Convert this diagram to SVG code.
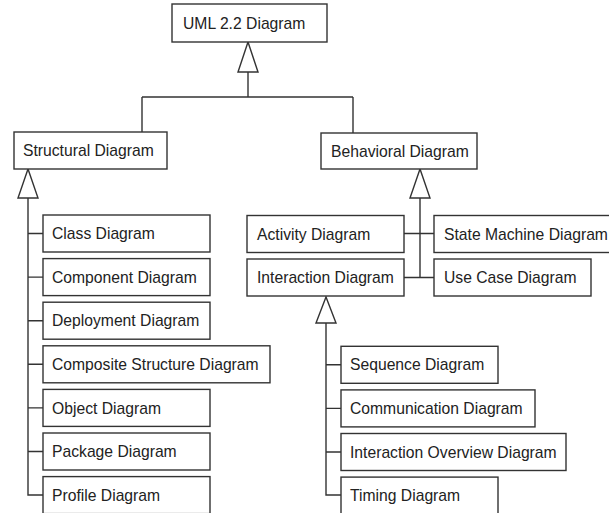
<svg xmlns="http://www.w3.org/2000/svg" width="609" height="513" viewBox="0 0 609 513">
<style>
.box rect{fill:#fff;stroke:#333;stroke-width:1.4}
.box text{font-family:"Liberation Sans",Arial,sans-serif;font-size:15.7px;fill:#222}
.conn path{fill:none;stroke:#333;stroke-width:1.4}
.conn polygon{fill:#fff;stroke:#333;stroke-width:1.4}
</style>
<rect width="609" height="513" fill="#fff"/>
<g class="conn" id="connectors">
<path d="M248 72V97M142 97H353M142 97V132M353 97V133"/>
<polygon points="248,42 238,72 258,72"/>
<path d="M28 198V495H43M28 233.5H43M28 277.1H43M28 320.7H43M28 364.3H43M28 407.9H43M28 451.5H43"/>
<polygon points="28,169 18,198 38,198"/>
<path d="M420 198V277.5M404 233.5H434M404 277.5H434"/>
<polygon points="420,169 410,198 430,198"/>
<path d="M326 323V495H341M326 364.8H341M326 408.4H341M326 452H341"/>
<polygon points="326,297 316,323 336,323"/>
</g>
<g class="box" id="uml"><rect x="172" y="4" width="155" height="38"/><text x="183" y="28.6">UML 2.2 Diagram</text></g>
<g class="box" id="structural"><rect x="14" y="132" width="153" height="37"/><text x="23" y="156.1">Structural Diagram</text></g>
<g class="box" id="behavioral"><rect x="321" y="133" width="156" height="36"/><text x="331" y="156.6">Behavioral Diagram</text></g>
<g class="box" id="class"><rect x="43" y="215" width="167" height="37"/><text x="52" y="239.1">Class Diagram</text></g>
<g class="box" id="component"><rect x="43" y="258.6" width="167" height="37"/><text x="52" y="282.7">Component Diagram</text></g>
<g class="box" id="deployment"><rect x="43" y="302.2" width="167" height="37"/><text x="52" y="326.3">Deployment Diagram</text></g>
<g class="box" id="composite"><rect x="43" y="345.8" width="227" height="37"/><text x="52" y="369.9">Composite Structure Diagram</text></g>
<g class="box" id="object"><rect x="43" y="389.4" width="167" height="37"/><text x="52" y="413.5">Object Diagram</text></g>
<g class="box" id="package"><rect x="43" y="433" width="167" height="37"/><text x="52" y="457.1">Package Diagram</text></g>
<g class="box" id="profile"><rect x="43" y="476.6" width="167" height="37"/><text x="52" y="500.7">Profile Diagram</text></g>
<g class="box" id="activity"><rect x="247" y="215.5" width="157" height="37"/><text x="257" y="239.6">Activity Diagram</text></g>
<g class="box" id="interaction"><rect x="247" y="259" width="157" height="37"/><text x="257" y="283.1">Interaction Diagram</text></g>
<g class="box" id="statemachine"><rect x="434" y="215.5" width="184" height="37"/><text x="444" y="239.6">State Machine Diagram</text></g>
<g class="box" id="usecase"><rect x="434" y="259" width="157" height="37"/><text x="444" y="283.1">Use Case Diagram</text></g>
<g class="box" id="sequence"><rect x="341" y="346.3" width="157" height="37"/><text x="350" y="370.4">Sequence Diagram</text></g>
<g class="box" id="communication"><rect x="341" y="389.9" width="194" height="37"/><text x="350" y="414">Communication Diagram</text></g>
<g class="box" id="interactionoverview"><rect x="341" y="433.5" width="225" height="37"/><text x="350" y="457.6">Interaction Overview Diagram</text></g>
<g class="box" id="timing"><rect x="341" y="477.1" width="157" height="37"/><text x="350" y="501.2">Timing Diagram</text></g>
</svg>
